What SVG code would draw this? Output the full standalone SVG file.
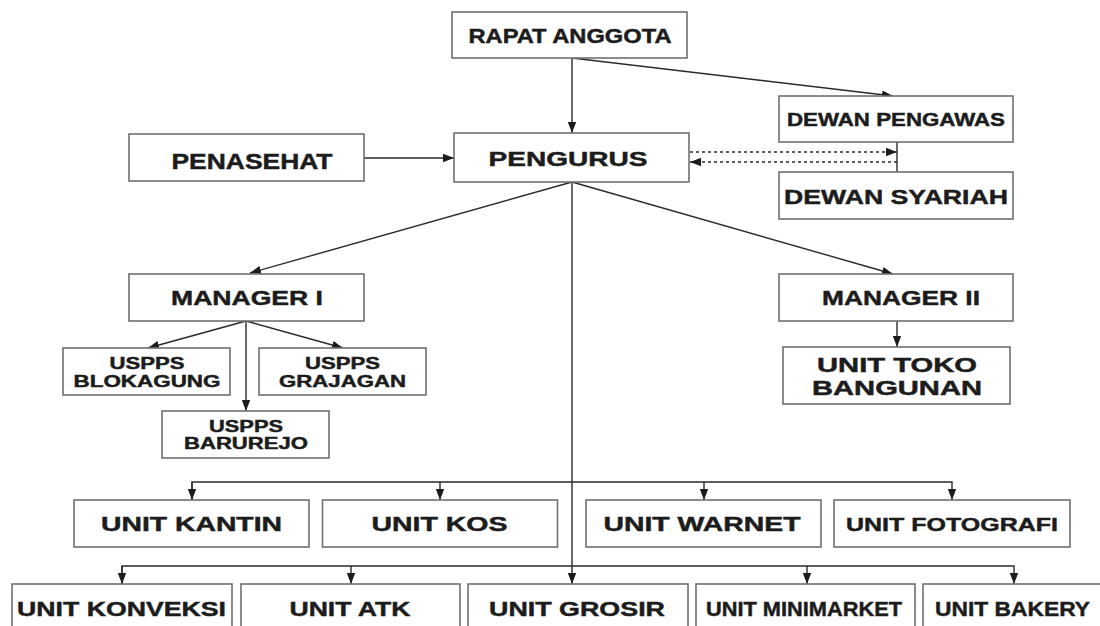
<svg xmlns="http://www.w3.org/2000/svg" width="1100" height="626" viewBox="0 0 1100 626">
<style>
.box{fill:#fff;stroke:#707070;stroke-width:1.6}
.t{font-family:"Liberation Sans",Arial,sans-serif;font-weight:bold;fill:#1c1c1c;stroke:#1c1c1c;stroke-width:0.45;text-anchor:middle}
.c{fill:none;stroke:#2a2a2a;stroke-width:1.4}
.d{fill:none;stroke:#2a2a2a;stroke-width:1.3;stroke-dasharray:3 3}
</style>
<defs>
<marker id="ah" markerUnits="userSpaceOnUse" markerWidth="12" markerHeight="10" refX="11" refY="5" orient="auto" viewBox="0 0 12 10">
<path d="M0,0.8 L11,5 L0,9.2 Z" fill="#1c1c1c"/>
</marker>
</defs>
<rect width="1100" height="626" fill="#fff"/>

<g id="connectors">
<line class="c" x1="572" y1="58" x2="572" y2="133" marker-end="url(#ah)"/>
<line class="c" x1="572" y1="58" x2="893" y2="96" marker-end="url(#ah)"/>
<line class="c" x1="364" y1="158" x2="454" y2="158" marker-end="url(#ah)"/>
<line class="d" x1="690" y1="152" x2="897" y2="152" marker-end="url(#ah)"/>
<line class="d" x1="897" y1="162" x2="690" y2="162" marker-end="url(#ah)"/>
<line class="c" x1="897" y1="142" x2="897" y2="172"/>
<line class="c" x1="572" y1="182" x2="250" y2="273" marker-end="url(#ah)"/>
<line class="c" x1="572" y1="182" x2="893" y2="274" marker-end="url(#ah)"/>
<line class="c" x1="572" y1="182" x2="572" y2="584" marker-end="url(#ah)"/>
<line class="c" x1="246" y1="321" x2="148" y2="348" marker-end="url(#ah)"/>
<line class="c" x1="246" y1="321" x2="343" y2="348" marker-end="url(#ah)"/>
<line class="c" x1="246" y1="321" x2="246" y2="411" marker-end="url(#ah)"/>
<line class="c" x1="897" y1="321" x2="897" y2="347" marker-end="url(#ah)"/>
<polyline class="c" points="192,500 192,482 952,482 952,500" marker-end="url(#ah)"/>
<line class="c" x1="192" y1="482" x2="192" y2="500" marker-end="url(#ah)"/>
<line class="c" x1="440" y1="482" x2="440" y2="500" marker-end="url(#ah)"/>
<line class="c" x1="704" y1="482" x2="704" y2="500" marker-end="url(#ah)"/>
<polyline class="c" points="122,584 122,566 1014,566 1014,584" marker-end="url(#ah)"/>
<line class="c" x1="122" y1="566" x2="122" y2="584" marker-end="url(#ah)"/>
<line class="c" x1="351" y1="566" x2="351" y2="584" marker-end="url(#ah)"/>
<line class="c" x1="807" y1="566" x2="807" y2="584" marker-end="url(#ah)"/>
</g>

<g id="rapat-anggota"><rect class="box" x="452" y="12" width="235" height="46"/><text class="t" x="570" y="43" font-size="20" textLength="203" lengthAdjust="spacingAndGlyphs">RAPAT ANGGOTA</text></g>
<g id="pengurus"><rect class="box" x="454" y="133" width="235" height="49"/><text class="t" x="568" y="166" font-size="21" textLength="159" lengthAdjust="spacingAndGlyphs">PENGURUS</text></g>
<g id="penasehat"><rect class="box" x="129" y="134" width="235" height="47"/><text class="t" x="252" y="169" font-size="21.5" textLength="161" lengthAdjust="spacingAndGlyphs">PENASEHAT</text></g>
<g id="dewan-pengawas"><rect class="box" x="779" y="96" width="234" height="46"/><text class="t" x="896" y="126" font-size="19" textLength="218" lengthAdjust="spacingAndGlyphs">DEWAN PENGAWAS</text></g>
<g id="dewan-syariah"><rect class="box" x="779" y="172" width="234" height="47"/><text class="t" x="896" y="204" font-size="21" textLength="224" lengthAdjust="spacingAndGlyphs">DEWAN SYARIAH</text></g>
<g id="manager-1"><rect class="box" x="129" y="274" width="235" height="47"/><text class="t" x="247" y="305" font-size="20.5" textLength="152" lengthAdjust="spacingAndGlyphs">MANAGER I</text></g>
<g id="manager-2"><rect class="box" x="779" y="274" width="234" height="47"/><text class="t" x="901" y="305" font-size="20.5" textLength="158" lengthAdjust="spacingAndGlyphs">MANAGER II</text></g>
<g id="uspps-blokagung"><rect class="box" x="63" y="348" width="167" height="47"/><text class="t" x="147" y="369" font-size="16.5" textLength="75" lengthAdjust="spacingAndGlyphs">USPPS</text><text class="t" x="147" y="387" font-size="16.5" textLength="147" lengthAdjust="spacingAndGlyphs">BLOKAGUNG</text></g>
<g id="uspps-grajagan"><rect class="box" x="259" y="348" width="167" height="47"/><text class="t" x="342.5" y="369" font-size="16.5" textLength="75" lengthAdjust="spacingAndGlyphs">USPPS</text><text class="t" x="342.5" y="387" font-size="16.5" textLength="127" lengthAdjust="spacingAndGlyphs">GRAJAGAN</text></g>
<g id="uspps-barurejo"><rect class="box" x="162" y="411" width="167" height="47"/><text class="t" x="246" y="432" font-size="16.5" textLength="74" lengthAdjust="spacingAndGlyphs">USPPS</text><text class="t" x="246" y="448.5" font-size="16.5" textLength="124" lengthAdjust="spacingAndGlyphs">BARUREJO</text></g>
<g id="unit-toko-bangunan"><rect class="box" x="783" y="347" width="227" height="57"/><text class="t" x="897" y="372" font-size="19.5" textLength="160" lengthAdjust="spacingAndGlyphs">UNIT TOKO</text><text class="t" x="897" y="394.5" font-size="19.5" textLength="170" lengthAdjust="spacingAndGlyphs">BANGUNAN</text></g>

<g id="unit-kantin"><rect class="box" x="74" y="500" width="235" height="47"/><text class="t" x="191.5" y="531" font-size="20" textLength="181" lengthAdjust="spacingAndGlyphs">UNIT KANTIN</text></g>
<g id="unit-kos"><rect class="box" x="322.5" y="500" width="235" height="47"/><text class="t" x="439.5" y="531" font-size="20" textLength="136" lengthAdjust="spacingAndGlyphs">UNIT KOS</text></g>
<g id="unit-warnet"><rect class="box" x="586" y="500" width="235" height="47"/><text class="t" x="702" y="531" font-size="20" textLength="197" lengthAdjust="spacingAndGlyphs">UNIT WARNET</text></g>
<g id="unit-fotografi"><rect class="box" x="834" y="500" width="236" height="47"/><text class="t" x="952" y="530.5" font-size="19" textLength="212" lengthAdjust="spacingAndGlyphs">UNIT FOTOGRAFI</text></g>

<g id="unit-konveksi"><rect class="box" x="12" y="584" width="220" height="60"/><text class="t" x="121.5" y="615.5" font-size="20.5" textLength="209" lengthAdjust="spacingAndGlyphs">UNIT KONVEKSI</text></g>
<g id="unit-atk"><rect class="box" x="241" y="584" width="219" height="60"/><text class="t" x="350" y="615.5" font-size="20.5" textLength="121" lengthAdjust="spacingAndGlyphs">UNIT ATK</text></g>
<g id="unit-grosir"><rect class="box" x="468" y="584" width="220" height="60"/><text class="t" x="577" y="615.5" font-size="20.5" textLength="176" lengthAdjust="spacingAndGlyphs">UNIT GROSIR</text></g>
<g id="unit-minimarket"><rect class="box" x="696" y="584" width="219" height="60"/><text class="t" x="804" y="615.5" font-size="20" textLength="196" lengthAdjust="spacingAndGlyphs">UNIT MINIMARKET</text></g>
<g id="unit-bakery"><rect class="box" x="923" y="584" width="190" height="60"/><text class="t" x="1012.5" y="615.5" font-size="20.5" textLength="155" lengthAdjust="spacingAndGlyphs">UNIT BAKERY</text></g>
</svg>
